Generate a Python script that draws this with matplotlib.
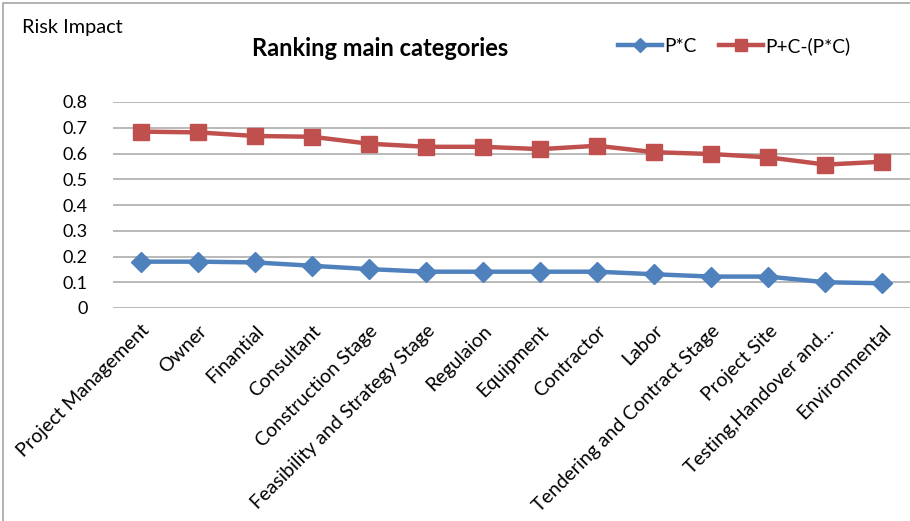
import matplotlib
matplotlib.use("Agg")
import matplotlib.pyplot as plt
from matplotlib.patches import Rectangle
from matplotlib.lines import Line2D

categories = ["Project Management", "Owner", "Finantial", "Consultant", "Construction Stage",
              "Feasibility and Strategy Stage", "Regulaion", "Equipment", "Contractor", "Labor",
              "Tendering and Contract Stage", "Project Site", "Testing,Handover and...", "Environmental"]
pc = [0.180, 0.180, 0.177, 0.164, 0.151, 0.141, 0.141, 0.141, 0.141, 0.131, 0.122, 0.122, 0.100, 0.096]
p_plus_c = [0.685, 0.682, 0.668, 0.665, 0.638, 0.626, 0.626, 0.617, 0.630, 0.605, 0.598, 0.585, 0.557, 0.568]
yticks = [0, 0.1, 0.2, 0.3, 0.4, 0.5, 0.6, 0.7, 0.8]

plt.rcParams['font.family'] = ['Lato', 'DejaVu Sans']

W, H = 910, 521
fig = plt.figure(figsize=(W/100, H/100), dpi=100)
fig.patches.append(Rectangle((3/W, -0.1), 1.2, 1 - 3/H + 0.1, transform=fig.transFigure,
                             fill=False, edgecolor='#A6A6A6', lw=1.2))

ax = fig.add_axes([112.5/W, 1 - 308/H, 798.5/W, (308-102)/H])
x = list(range(len(categories)))
blue = '#4F81BD'
red = '#C0504D'
ax.plot(x, pc, color=blue, lw=3.2, marker='D', ms=10.5, mec=blue, zorder=3)
ax.plot(x, p_plus_c, color=red, lw=3.2, marker='s', ms=11.5, mec=red, zorder=3)

ax.set_xlim(-0.5, len(categories) - 0.5)
ax.set_ylim(0, 0.8)
ax.set_yticks(yticks)
ax.set_yticklabels([f"{v:g}" for v in yticks], fontsize=13)
ax.yaxis.grid(True, color='#B3B3B3', lw=1.3)
ax.set_axisbelow(True)
for s in ax.spines.values():
    s.set_visible(False)
ax.tick_params(axis='y', length=0, pad=18)
ax.tick_params(axis='x', length=0, pad=10)
ax.set_xticks(x)
ax.set_xticklabels(categories, rotation=45, ha='right', rotation_mode='anchor', fontsize=14)

fig.text(22/W, 1 - 27/H, "Risk Impact", fontsize=14.3, va='center', ha='left')
fig.text(380/W, 1 - 48/H, "Ranking main categories", fontsize=17, fontweight='bold',
         va='center', ha='center')
h1 = Line2D([], [], color=blue, lw=3.2, marker='D', ms=7, mec=blue)
h2 = Line2D([], [], color=red, lw=3.2, marker='s', ms=8, mec=red)
fig.legend(handles=[h1, h2], labels=['P*C', 'P+C-(P*C)'], loc='center left',
           bbox_to_anchor=(618/W, 1 - 46/H), ncol=2,
           frameon=False, fontsize=13.8, handlelength=2.3, handletextpad=0.1, columnspacing=1.2,
           borderpad=0, borderaxespad=0)

fig.savefig("out.png", dpi=100)
